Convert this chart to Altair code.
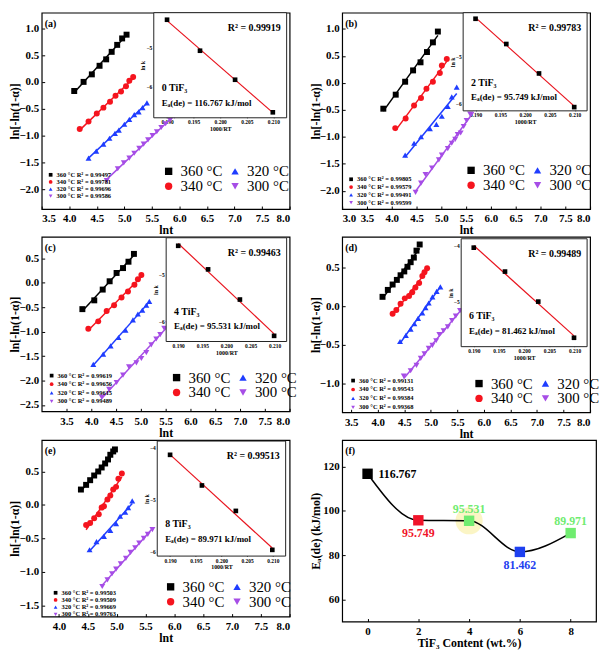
import altair as alt
import pandas as pd

SERIF = "Liberation Serif"

# ---------------- data ----------------
TEMPS = ["360 °C", "340 °C", "320 °C", "300 °C"]
LEG_ORDER = ["360 °C", "320 °C", "340 °C", "300 °C"]
T_COLORS = ["#000000", "#1f3dff", "#f5141e", "#a64de6"]
T_SHAPES = ["square", "triangle-up", "circle", "triangle-down"]

A360_x = [4.09, 4.26, 4.41, 4.55, 4.67, 4.77, 4.87, 4.96, 5.04]
A360_y = [-0.17, 0.00, 0.14, 0.30, 0.42, 0.56, 0.69, 0.81, 0.88]
A340_x = [4.19, 4.35, 4.50, 4.62, 4.74, 4.84, 4.94, 5.03, 5.09, 5.16]
A340_y = [-0.88, -0.74, -0.59, -0.48, -0.37, -0.26, -0.18, -0.08, 0.02, 0.09]
A320_x = [4.35, 4.49, 4.62, 4.73, 4.83, 4.90, 5.00, 5.09, 5.18, 5.26, 5.33, 5.41]
A320_y = [-1.42, -1.29, -1.16, -1.05, -0.96, -0.90, -0.79, -0.70, -0.61, -0.56, -0.48, -0.39]
A300_x = [4.68, 4.88, 4.99, 5.09, 5.18, 5.27, 5.35, 5.43, 5.51, 5.59, 5.67, 5.75, 5.83, 5.91]
A300_y = [-1.84, -1.62, -1.51, -1.42, -1.33, -1.24, -1.16, -1.08, -1.00, -0.93, -0.85, -0.78, -0.71, -0.64]
A_R2 = ["0.99497", "0.99781", "0.99696", "0.99586"]

B360_x = [3.83, 4.08, 4.27, 4.43, 4.58, 4.71, 4.83, 4.93]
B360_y = [-0.48, -0.22, 0.02, 0.23, 0.38, 0.57, 0.75, 0.95]
B340_x = [4.07, 4.28, 4.45, 4.59, 4.70, 4.83, 4.97, 5.01, 5.11]
B340_y = [-0.84, -0.66, -0.42, -0.28, -0.11, 0.02, 0.18, 0.32, 0.44]
B320_x = [4.27, 4.45, 4.59, 4.77, 4.90, 5.01, 5.13, 5.21, 5.31]
B320_y = [-1.34, -1.12, -1.00, -0.85, -0.77, -0.62, -0.44, -0.26, -0.08]
B300_x = [4.48, 4.59, 4.68, 4.81, 4.95, 5.01, 5.13, 5.21, 5.28, 5.33, 5.39, 5.45, 5.51, 5.58, 5.65]
B300_y = [-2.03, -1.86, -1.70, -1.58, -1.43, -1.34, -1.22, -1.12, -1.05, -0.96, -0.93, -0.81, -0.70, -0.58, -0.48]
B_R2 = ["0.99805", "0.99579", "0.99491", "0.99599"]

C360_x = [3.82, 4.06, 4.23, 4.37, 4.51, 4.64, 4.75, 4.86]
C360_y = [-0.54, -0.36, -0.14, 0.03, 0.20, 0.30, 0.43, 0.59]
C340_x = [3.94, 4.14, 4.31, 4.46, 4.61, 4.74, 4.87, 4.94, 5.01]
C340_y = [-0.94, -0.79, -0.58, -0.46, -0.30, -0.18, -0.04, 0.07, 0.16]
C320_x = [4.04, 4.24, 4.39, 4.55, 4.69, 4.84, 4.94, 5.03, 5.11, 5.17]
C320_y = [-1.67, -1.46, -1.29, -1.12, -0.97, -0.76, -0.64, -0.56, -0.46, -0.38]
C300_x = [4.21, 4.36, 4.51, 4.64, 4.76, 4.91, 5.01, 5.11, 5.21, 5.31, 5.39, 5.47, 5.55]
C300_y = [-2.34, -2.18, -2.04, -1.89, -1.72, -1.64, -1.55, -1.43, -1.27, -1.15, -1.06, -0.93, -0.84]
C_R2 = ["0.99619", "0.99656", "0.99615", "0.99489"]

D360_x = [4.09, 4.19, 4.28, 4.36, 4.43, 4.50, 4.56, 4.62, 4.68, 4.73, 4.79]
D360_y = [0.12, 0.21, 0.28, 0.34, 0.40, 0.45, 0.51, 0.57, 0.63, 0.72, 0.80]
D340_x = [4.28, 4.35, 4.43, 4.51, 4.59, 4.65, 4.71, 4.78, 4.84, 4.88, 4.93]
D340_y = [-0.10, -0.05, 0.03, 0.10, 0.13, 0.18, 0.24, 0.30, 0.39, 0.44, 0.49]
D320_x = [4.42, 4.53, 4.62, 4.69, 4.76, 4.84, 4.90, 4.96, 5.03, 5.11, 5.18]
D320_y = [-0.46, -0.38, -0.30, -0.23, -0.16, -0.09, -0.02, 0.04, 0.12, 0.19, 0.25]
D300_x = [4.49, 4.62, 4.73, 4.81, 4.88, 4.96, 5.03, 5.10, 5.16, 5.24, 5.32, 5.40, 5.47, 5.55]
D300_y = [-0.91, -0.84, -0.77, -0.68, -0.62, -0.55, -0.51, -0.45, -0.37, -0.32, -0.27, -0.19, -0.13, -0.06]
D_R2 = ["0.99131", "0.99543", "0.99384", "0.99368"]

E360_x = [4.38, 4.47, 4.54, 4.61, 4.68, 4.74, 4.80, 4.85, 4.89, 4.94, 4.97]
E360_y = [0.23, 0.30, 0.37, 0.44, 0.50, 0.56, 0.62, 0.68, 0.75, 0.80, 0.83]
E340_x = [4.47, 4.54, 4.61, 4.69, 4.74, 4.78, 4.84, 4.89, 4.94, 4.99, 5.03, 5.09]
E340_y = [-0.30, -0.27, -0.20, -0.14, -0.04, -0.02, 0.08, 0.14, 0.23, 0.27, 0.39, 0.47]
E320_x = [4.53, 4.65, 4.78, 4.89, 4.99, 5.06, 5.15, 5.20, 5.27]
E320_y = [-0.67, -0.55, -0.47, -0.38, -0.28, -0.17, -0.11, -0.04, 0.06]
E300_x = [4.75, 4.84, 4.92, 4.99, 5.07, 5.16, 5.24, 5.32, 5.39, 5.47, 5.54, 5.62]
E300_y = [-1.22, -1.12, -1.03, -0.96, -0.88, -0.80, -0.71, -0.64, -0.57, -0.50, -0.44, -0.37]
E_R2 = ["0.99503", "0.99509", "0.99669", "0.99763"]

INV_RT = [0.1900, 0.1962, 0.2028, 0.2099]
INV_TICKS = [0.190, 0.195, 0.200, 0.205, 0.210]
A_LNK = [-4.29, -5.08, -5.82, -6.65]
B_LNK = [-4.19, -4.73, -5.36, -6.08]
C_LNK = [-4.39, -4.89, -5.53, -6.30]
D_LNK = [-4.03, -4.46, -5.00, -5.65]
E_LNK = [-4.14, -4.73, -5.22, -5.97]
FIT_R2 = ["0.99919", "0.99783", "0.99463", "0.99489", "0.99513"]

TIF = [0, 2, 4, 6, 8]
EA = [116.767, 95.749, 95.531, 81.462, 89.971]
F_COLORS = ["#000000", "#f0142a", "#70ec70", "#1e40f0", "#70ec70"]

ONE = pd.DataFrame({"k": [0]})
COLOR_OF = dict(zip(LEG_ORDER, T_COLORS))


def long_df(xs, ys):
    rows = []
    for t, xv, yv in zip(TEMPS, xs, ys):
        for a, b in zip(xv, yv):
            rows.append({"temp": t, "lnt": a, "val": b})
    return pd.DataFrame(rows)


def cscale():
    return alt.Scale(domain=LEG_ORDER, range=T_COLORS)


def sscale():
    return alt.Scale(domain=LEG_ORDER, range=T_SHAPES)


def main_layers(xs, ys, xdom, ydom, xticks, yticks):
    df = long_df(xs, ys)
    xenc = alt.X("lnt:Q", scale=alt.Scale(domain=xdom, nice=False, zero=False),
                 axis=alt.Axis(orient="bottom", values=xticks, format=".1f", title="lnt",
                               labelFontSize=11, titleFontSize=12,
                               tickSize=alt.ExprRef(expr="-3"), labelPadding=7,
                               titlePadding=1))
    yenc = alt.Y("val:Q", scale=alt.Scale(domain=ydom, nice=False, zero=False),
                 axis=alt.Axis(orient="left", values=yticks, format=".1f",
                               title="ln[-ln(1-α)]", labelFontSize=11, titleFontSize=12,
                               tickSize=alt.ExprRef(expr="-3"), labelPadding=6,
                               minExtent=19, maxExtent=19, titlePadding=1))
    xl = alt.X("lnt:Q", scale=alt.Scale(domain=xdom, nice=False, zero=False), axis=None)
    yl = alt.Y("val:Q", scale=alt.Scale(domain=ydom, nice=False, zero=False), axis=None)
    pts = alt.Chart(df).mark_point(filled=True, size=36, opacity=1).encode(
        x=xenc, y=yenc,
        color=alt.Color("temp:N", scale=cscale(), legend=None),
        shape=alt.Shape("temp:N", scale=sscale(), legend=None),
    )
    layers = [pts]
    for t, xv, yv in zip(TEMPS, xs, ys):
        sdf = pd.DataFrame({"lnt": xv, "val": yv})
        layers.append(
            alt.Chart(sdf).transform_regression("lnt", "val")
            .mark_line(strokeWidth=1.5, color=COLOR_OF[t]).encode(x=xl, y=yl)
        )
    return layers


def inset_group(lnk, H, box, ydom, yticks, tif, r2, ea):
    x0, x1, y0, y1 = box
    df = pd.DataFrame({"inv": INV_RT, "lnk": lnk})
    ix = alt.X("inv:Q", scale=alt.Scale(domain=[0.1875, 0.2125], range=[x0, x1],
                                        nice=False, zero=False),
               axis=alt.Axis(orient="bottom", offset=y1 - H, values=INV_TICKS,
                             format=".3f", title="1000/RT", labelFontSize=5.5,
                             titleFontSize=6, tickSize=alt.ExprRef(expr="-2"),
                             labelPadding=4, titlePadding=1, minExtent=7, maxExtent=7))
    iy = alt.Y("lnk:Q", scale=alt.Scale(domain=ydom, range=[y1, y0], nice=False, zero=False),
               axis=alt.Axis(orient="left", offset=-x0, values=yticks, format="d",
                             title="ln k", labelFontSize=5.5, titleFontSize=6,
                             tickSize=alt.ExprRef(expr="-2"), labelPadding=4,
                             titlePadding=1, minExtent=7, maxExtent=7))
    frame = alt.Chart(ONE).mark_rect(fill="white", stroke="#222", strokeWidth=1).encode(
        x=alt.value(x0), x2=alt.value(x1), y=alt.value(y0), y2=alt.value(y1))
    fit = alt.Chart(df).transform_regression("inv", "lnk").mark_line(
        color="#e8141e", strokeWidth=1.2).encode(x=ix, y=iy)
    pts = alt.Chart(df).mark_point(shape="square", filled=True, size=22, color="black",
                                   opacity=1).encode(x=ix, y=iy)
    hgt = y1 - y0
    tr2 = alt.Chart(ONE).mark_text(align="right", baseline="middle", font=SERIF,
                                   fontSize=10, fontWeight="bold").encode(
        x=alt.value(x1 - 6), y=alt.value(y0 + 15), text=alt.value(f"R² = {r2}"))
    ttif = alt.Chart(ONE).mark_text(align="left", baseline="middle", font=SERIF,
                                    fontSize=10, fontWeight="bold").encode(
        x=alt.value(x0 + 8), y=alt.value(y0 + 0.72 * hgt), text=alt.value(f"{tif}  TiF₃"))
    tea = alt.Chart(ONE).mark_text(align="left", baseline="middle", font=SERIF,
                                   fontSize=9, fontWeight="bold").encode(
        x=alt.value(x0 + 8), y=alt.value(y0 + 0.855 * hgt),
        text=alt.value(f"Eₐ(de) = {ea:.3f} kJ/mol"))
    return alt.layer(frame, fit, pts, tr2, ttif, tea)


def r2_group(r2, lx, ly0, ly1, plabel):
    df = pd.DataFrame({"row": [0, 1, 2, 3], "temp": TEMPS,
                       "txt": [f"{t}  R² = {v}" for t, v in zip(TEMPS, r2)]})
    yenc = alt.Y("row:Q", scale=alt.Scale(domain=[0, 3], range=[ly0, ly1]), axis=None)
    sym = alt.Chart(df).mark_point(filled=True, size=14, opacity=1).encode(
        x=alt.value(lx), y=yenc,
        color=alt.Color("temp:N", scale=cscale(), legend=None),
        shape=alt.Shape("temp:N", scale=sscale(), legend=None))
    txt = alt.Chart(df).mark_text(align="left", baseline="middle", font=SERIF,
                                  fontSize=6.5, fontWeight="bold").encode(
        x=alt.value(lx + 6), y=yenc, text="txt:N")
    lab = alt.Chart(ONE).mark_text(align="left", baseline="middle", font=SERIF,
                                   fontSize=10, fontWeight="bold").encode(
        x=alt.value(3), y=alt.value(11), text=alt.value(plabel))
    return alt.layer(sym, txt, lab)


def legend_group(sx, sy):
    df = pd.DataFrame({"temp": LEG_ORDER, "i": [0, 1, 2, 3]})
    base = alt.Chart(df).transform_calculate(col="datum.i % 2", row="floor(datum.i / 2)")
    lx = alt.X("col:Q", scale=alt.Scale(domain=[0, 1], range=[sx, sx + 67]), axis=None)
    ly = alt.Y("row:Q", scale=alt.Scale(domain=[0, 1], range=[sy, sy + 15]), axis=None)
    sym = base.mark_point(filled=True, size=55, opacity=1).encode(
        x=lx, y=ly,
        color=alt.Color("temp:N", scale=cscale(), legend=None),
        shape=alt.Shape("temp:N", scale=sscale(), legend=None))
    txt = base.mark_text(align="left", baseline="middle", dx=12, font=SERIF,
                         fontSize=15, color="black").encode(x=lx, y=ly, text="temp:N")
    return alt.layer(sym, txt)


def panel(xs, ys, r2, lnk, idx, W, H, xdom, ydom, xticks, yticks, leg, box,
          idom, iticks, small, plabel):
    main = main_layers(xs, ys, xdom, ydom, xticks, yticks)
    ins = inset_group(lnk, H, box, idom, iticks, TIF[idx], FIT_R2[idx], EA[idx])
    r = r2_group(r2, small[0], small[1], small[2], plabel)
    lg = legend_group(leg[0], leg[1])
    return alt.layer(*main, ins, r, lg).resolve_scale(
        x="independent", y="independent").properties(width=W, height=H)


def ticks(a, b):
    n = int(round((b - a) / 0.5))
    return [round(a + 0.5 * i, 1) for i in range(n + 1)]


W1 = 250
pa = panel([A360_x, A340_x, A320_x, A300_x], [A360_y, A340_y, A320_y, A300_y], A_R2, A_LNK, 0,
           W1, 198, [3.5, 8.0], [-2.37, 1.29], ticks(3.5, 8.0), ticks(-2.0, 1.0),
           (128, 160), (113, 247, 0, 106), [-6.79, -4.11], [-5, -6], (9, 163.5, 185), "(a)")
pb = panel([B360_x, B340_x, B320_x, B300_x], [B360_y, B340_y, B320_y, B300_y], B_R2, B_LNK, 1,
           W1, 198, [3.0, 8.0], [-2.34, 1.30], ticks(3.0, 8.0), ticks(-2.0, 1.0),
           (130, 159), (122, 247, 0, 99), [-6.16, -4.06], [-5, -6], (9, 168, 191.5), "(b)")
pc = panel([C360_x, C340_x, C320_x, C300_x], [C360_y, C340_y, C320_y, C300_y], C_R2, C_LNK, 2,
           W1, 176, [3.0, 8.0], [-2.63, 0.94], ticks(3.5, 8.0), ticks(-2.5, 0.5),
           (136, 142), (125.5, 247, 1, 105.6), [-6.42, -4.22], [-5, -6], (10, 140, 166), "(c)")
pd_ = panel([D360_x, D340_x, D320_x, D300_x], [D360_y, D340_y, D320_y, D300_y], D_R2, D_LNK, 3,
            W1, 177, [3.33, 8.0], [-1.38, 0.90], ticks(3.5, 8.0), ticks(-1.0, 0.5),
            (138, 148), (120, 247, 2, 110.8), [-5.81, -3.87], [-4, -5], (11, 145, 172), "(d)")
pe = panel([E360_x, E340_x, E320_x, E300_x], [E360_y, E340_y, E320_y, E300_y], E_R2, E_LNK, 4,
           W1, 178, [3.7, 8.0], [-1.67, 0.97], ticks(4.0, 8.0), ticks(-1.5, 0.5),
           (130, 148), (116.5, 246, 1, 117), [-6.09, -3.875], [-4, -5, -6], (14, 154, 175.7), "(e)")

fdf = pd.DataFrame({"tif": TIF, "ea": EA})
fx = alt.X("tif:Q", scale=alt.Scale(domain=[-1, 9], nice=False, zero=False),
           axis=alt.Axis(orient="bottom", values=TIF, format="d", title="TiF₃ Content (wt.%)",
                         labelFontSize=11, titleFontSize=12, tickSize=alt.ExprRef(expr="-3"),
                         labelPadding=7, titlePadding=1))
fy = alt.Y("ea:Q", scale=alt.Scale(domain=[50, 132], nice=False, zero=False),
           axis=alt.Axis(orient="left", values=[60, 80, 100, 120], format="d",
                         title="Eₐ(de) (kJ/mol)", labelFontSize=11, titleFontSize=12,
                         tickSize=alt.ExprRef(expr="-3"), labelPadding=6,
                         minExtent=19, maxExtent=19, titlePadding=1))
fcol = alt.Color("tif:O", scale=alt.Scale(domain=TIF, range=F_COLORS), legend=None)
fbase = alt.Chart(fdf)
glow = fbase.transform_filter("datum.tif == 4").mark_circle(
    size=750, color="#fbf4bf", opacity=0.9).encode(x=fx, y=fy)
fline = fbase.mark_line(interpolate="monotone", color="black", strokeWidth=1.5).encode(x=fx, y=fy)
fpts = fbase.mark_square(size=110, opacity=1).encode(x=fx, y=fy, color=fcol)
ftxt = dict(font=SERIF, fontSize=12, fontWeight="bold", baseline="middle")
lab_r = fbase.transform_filter("datum.tif == 0").mark_text(align="left", dx=11, **ftxt).encode(
    x=fx, y=fy, color=fcol, text=alt.Text("ea:Q", format=".3f"))
lab_b = fbase.transform_filter("datum.tif == 2 || datum.tif == 6").mark_text(
    align="center", dy=13, **ftxt).encode(x=fx, y=fy, color=fcol, text=alt.Text("ea:Q", format=".3f"))
lab_t = fbase.transform_filter("datum.tif == 4 || datum.tif == 8").mark_text(
    align="center", dy=-12, **ftxt).encode(x=fx, y=fy, color=fcol, text=alt.Text("ea:Q", format=".3f"))
flab = alt.Chart(ONE).mark_text(align="left", baseline="middle", font=SERIF, fontSize=10,
                                fontWeight="bold").encode(x=alt.value(3), y=alt.value(11),
                                                          text=alt.value("(f)"))
pf = alt.layer(glow, fline, fpts, lab_r, lab_b, lab_t, flab).properties(width=256, height=183)

chart = alt.concat(
    pa, pb, pc, pd_, pe, pf, columns=2, spacing={"row": 28, "column": 53},
    align="each", bounds="flush"
).resolve_scale(color="independent", shape="independent").properties(
    padding=0
).configure_view(
    stroke="black", strokeWidth=1.2
).configure_axis(
    labelFont=SERIF, titleFont=SERIF, labelFontWeight="bold", titleFontWeight="bold",
    grid=False, domain=False, labelColor="black", titleColor="black", tickColor="black"
)

chart.save("out.html", embed_options={"renderer": "svg", "actions": False})
